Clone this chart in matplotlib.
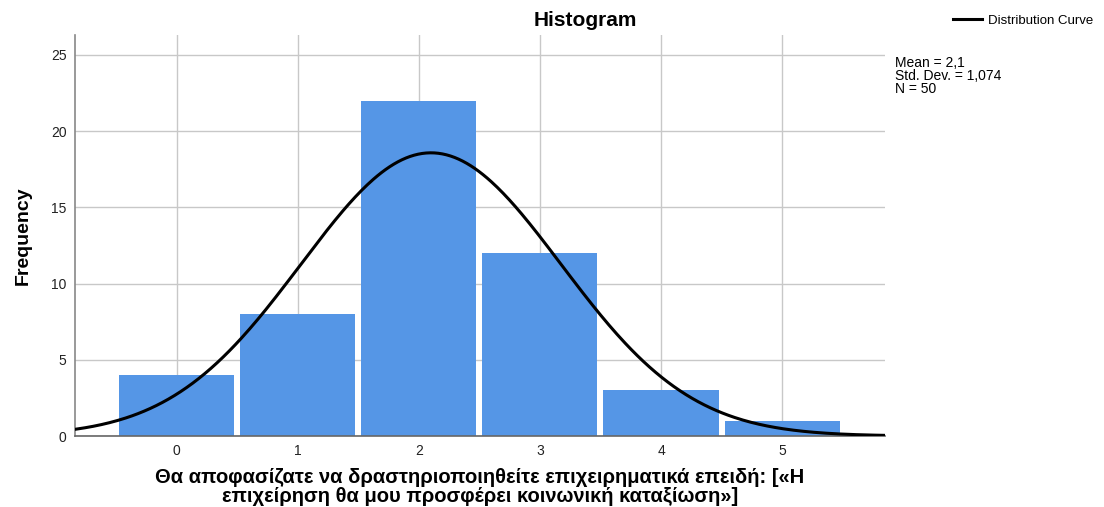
import numpy as np
import matplotlib.pyplot as plt

plt.rcParams['font.family'] = ['Liberation Sans', 'DejaVu Sans']

# response values and their frequencies
values = [0, 1, 2, 3, 4, 5]
counts = [4, 8, 22, 12, 3, 1]
mean, std_dev, n = 2.1, 1.074, 50

x_label = 'Θα αποφασίζατε να δραστηριοποιηθείτε επιχειρηματικά επειδή: [«Η\nεπιχείρηση θα μου προσφέρει κοινωνική καταξίωση»]'

fig = plt.figure(figsize=(11.04, 5.07), dpi=100)
ax = fig.add_axes([75 / 1104, 1 - 436 / 507, 810 / 1104, 401 / 507])

ax.bar(values, counts, width=0.95, color='#5596e6', zorder=2)

xs = np.linspace(-0.84, 5.85, 400)
curve = n * np.exp(-0.5 * ((xs - mean) / std_dev) ** 2) / (std_dev * np.sqrt(2 * np.pi))
ax.plot(xs, curve, color='black', lw=2.2, zorder=3, label='Distribution Curve')

ax.set_xlim(-0.84, 5.85)
ax.set_ylim(0, 26.3)
ax.set_xticks(values)
ax.set_yticks([0, 5, 10, 15, 20, 25])
ax.grid(True, color='#c8c8c8', lw=1, zorder=0)
ax.set_axisbelow(True)
for s in ['top', 'right']:
    ax.spines[s].set_visible(False)
ax.spines['left'].set_color('#888888')
ax.spines['bottom'].set_color('#666666')
ax.spines['left'].set_linewidth(1.2)
ax.spines['bottom'].set_linewidth(1.2)
ax.tick_params(length=0, labelsize=10, pad=6, colors='#222222')

ax.set_ylabel('Frequency', fontsize=14, fontweight='bold', fontstretch='condensed', labelpad=14)
fig.text(480 / 1104, 1 - 487 / 507, x_label, ha='center', va='center', fontsize=14.5,
         fontweight='bold', linespacing=0.98)
fig.text(585 / 1104, 1 - 20 / 507, 'Histogram', ha='center', va='center', fontsize=15,
         fontweight='bold')

fig.legend(loc='upper left', bbox_to_anchor=(948 / 1104, 1 - 9 / 507), frameon=False,
           fontsize=9.5, handlelength=2.2, handletextpad=0.4, borderaxespad=0)
fig.text(895 / 1104, 1 - 56 / 507, f'Mean = 2,1\nStd. Dev. = 1,074\nN = {n}', ha='left', va='top',
         fontsize=10, linespacing=0.9)

plt.savefig('out.png', dpi=100)
